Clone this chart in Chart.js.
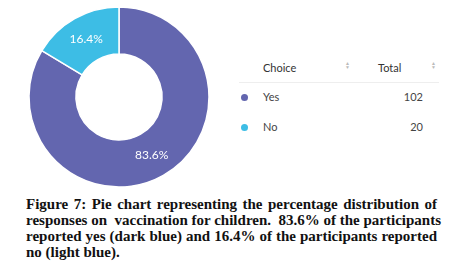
<!DOCTYPE html>
<html>
<head>
<meta charset="utf-8">
<script src="https://cdn.jsdelivr.net/npm/chart.js@4"></script>
<style>
    body { margin: 0; width: 449px; height: 273px; background: #fff; position: relative; overflow: hidden; }
    #chartBox { position: absolute; left: 0; top: 0; width: 238px; height: 194px; }
    #table { position: absolute; left: 239px; top: 58px; width: 200px; font-family: Lato, sans-serif; font-size: 11px; color: #444; }
    .row { position: relative; height: 30px; }
    .head { height: 24px; border-bottom: 1px solid #eee; color: #333; }
    .cell { position: absolute; top: 3px; }
    .dot { position: absolute; left: 2px; top: 7px; width: 7px; height: 7px; border-radius: 50%; }
    .sort { position: absolute; top: 3px; font-size: 5px; line-height: 4px; color: #bbb; }
    #caption { position: absolute; left: 26px; top: 196px; width: 411px; font-family: "Liberation Serif", serif; font-weight: bold; font-size: 15px; line-height: 16px; color: #111; }
    #caption div { text-align: justify; text-align-last: justify; white-space: nowrap; }
    #caption div.last { text-align-last: left; }
</style>
</head>
<body>
<div id="chartBox"><canvas id="myChart" width="238" height="194"></canvas></div>
<div id="table"></div>
<div id="caption">
    <div>Figure 7: Pie chart representing the percentage distribution of</div>
    <div>responses on &nbsp;vaccination for children. &nbsp;83.6% of the participants</div>
    <div>reported yes (dark blue) and 16.4% of the participants reported</div>
    <div class="last">no (light blue).</div>
</div>
<script>
const choices = ["Yes", "No"];
const totals = [102, 20];
const percentLabels = ["83.6%", "16.4%"];
const sliceColors = ["#6366AF", "#3DBDE5"];

function init() {
    const table = document.getElementById("table");

    // header row
    const head = document.createElement("div");
    head.className = "row head";
    head.innerHTML = `<span class="cell" style="left:24px">Choice</span>
        <span class="sort" style="left:106px">▲<br>▼</span>
        <span class="cell" style="left:139px">Total</span>
        <span class="sort" style="left:192px">▲<br>▼</span>`;
    table.appendChild(head);

    choices.forEach((choice, i) => {
        const row = document.createElement("div");
        row.className = "row";
        row.style.top = "4px";
        row.innerHTML = `<span class="dot" style="background:${sliceColors[i]}"></span>
            <span class="cell" style="left:24px">${choice}</span>
            <span class="cell" style="right:16px">${totals[i]}</span>`;
        table.appendChild(row);
    });

    // write the percent on each slice
    const sliceText = {
        id: "sliceText",
        afterDatasetsDraw(chart) {
            const ctx = chart.ctx;
            ctx.save();
            ctx.fillStyle = "#fff";
            ctx.font = "12px Lato";
            ctx.textAlign = "center";
            ctx.textBaseline = "middle";
            chart.getDatasetMeta(0).data.forEach((arc, i) => {
                const pos = arc.tooltipPosition();
                ctx.fillText(percentLabels[i], pos.x, pos.y);
            });
            ctx.restore();
        }
    };

    new Chart(document.getElementById("myChart"), {
        type: "doughnut",
        data: {
            labels: choices,
            datasets: [{
                data: totals,
                backgroundColor: sliceColors,
                borderColor: "#fff",
                borderWidth: 1.5,
                radius: 90,
                cutout: 46
            }]
        },
        options: {
            responsive: false,
            animation: false,
            plugins: { legend: { display: false }, tooltip: { enabled: false } }
        },
        plugins: [sliceText]
    });
}

document.addEventListener("DOMContentLoaded", init);
</script>
</body>
</html>
